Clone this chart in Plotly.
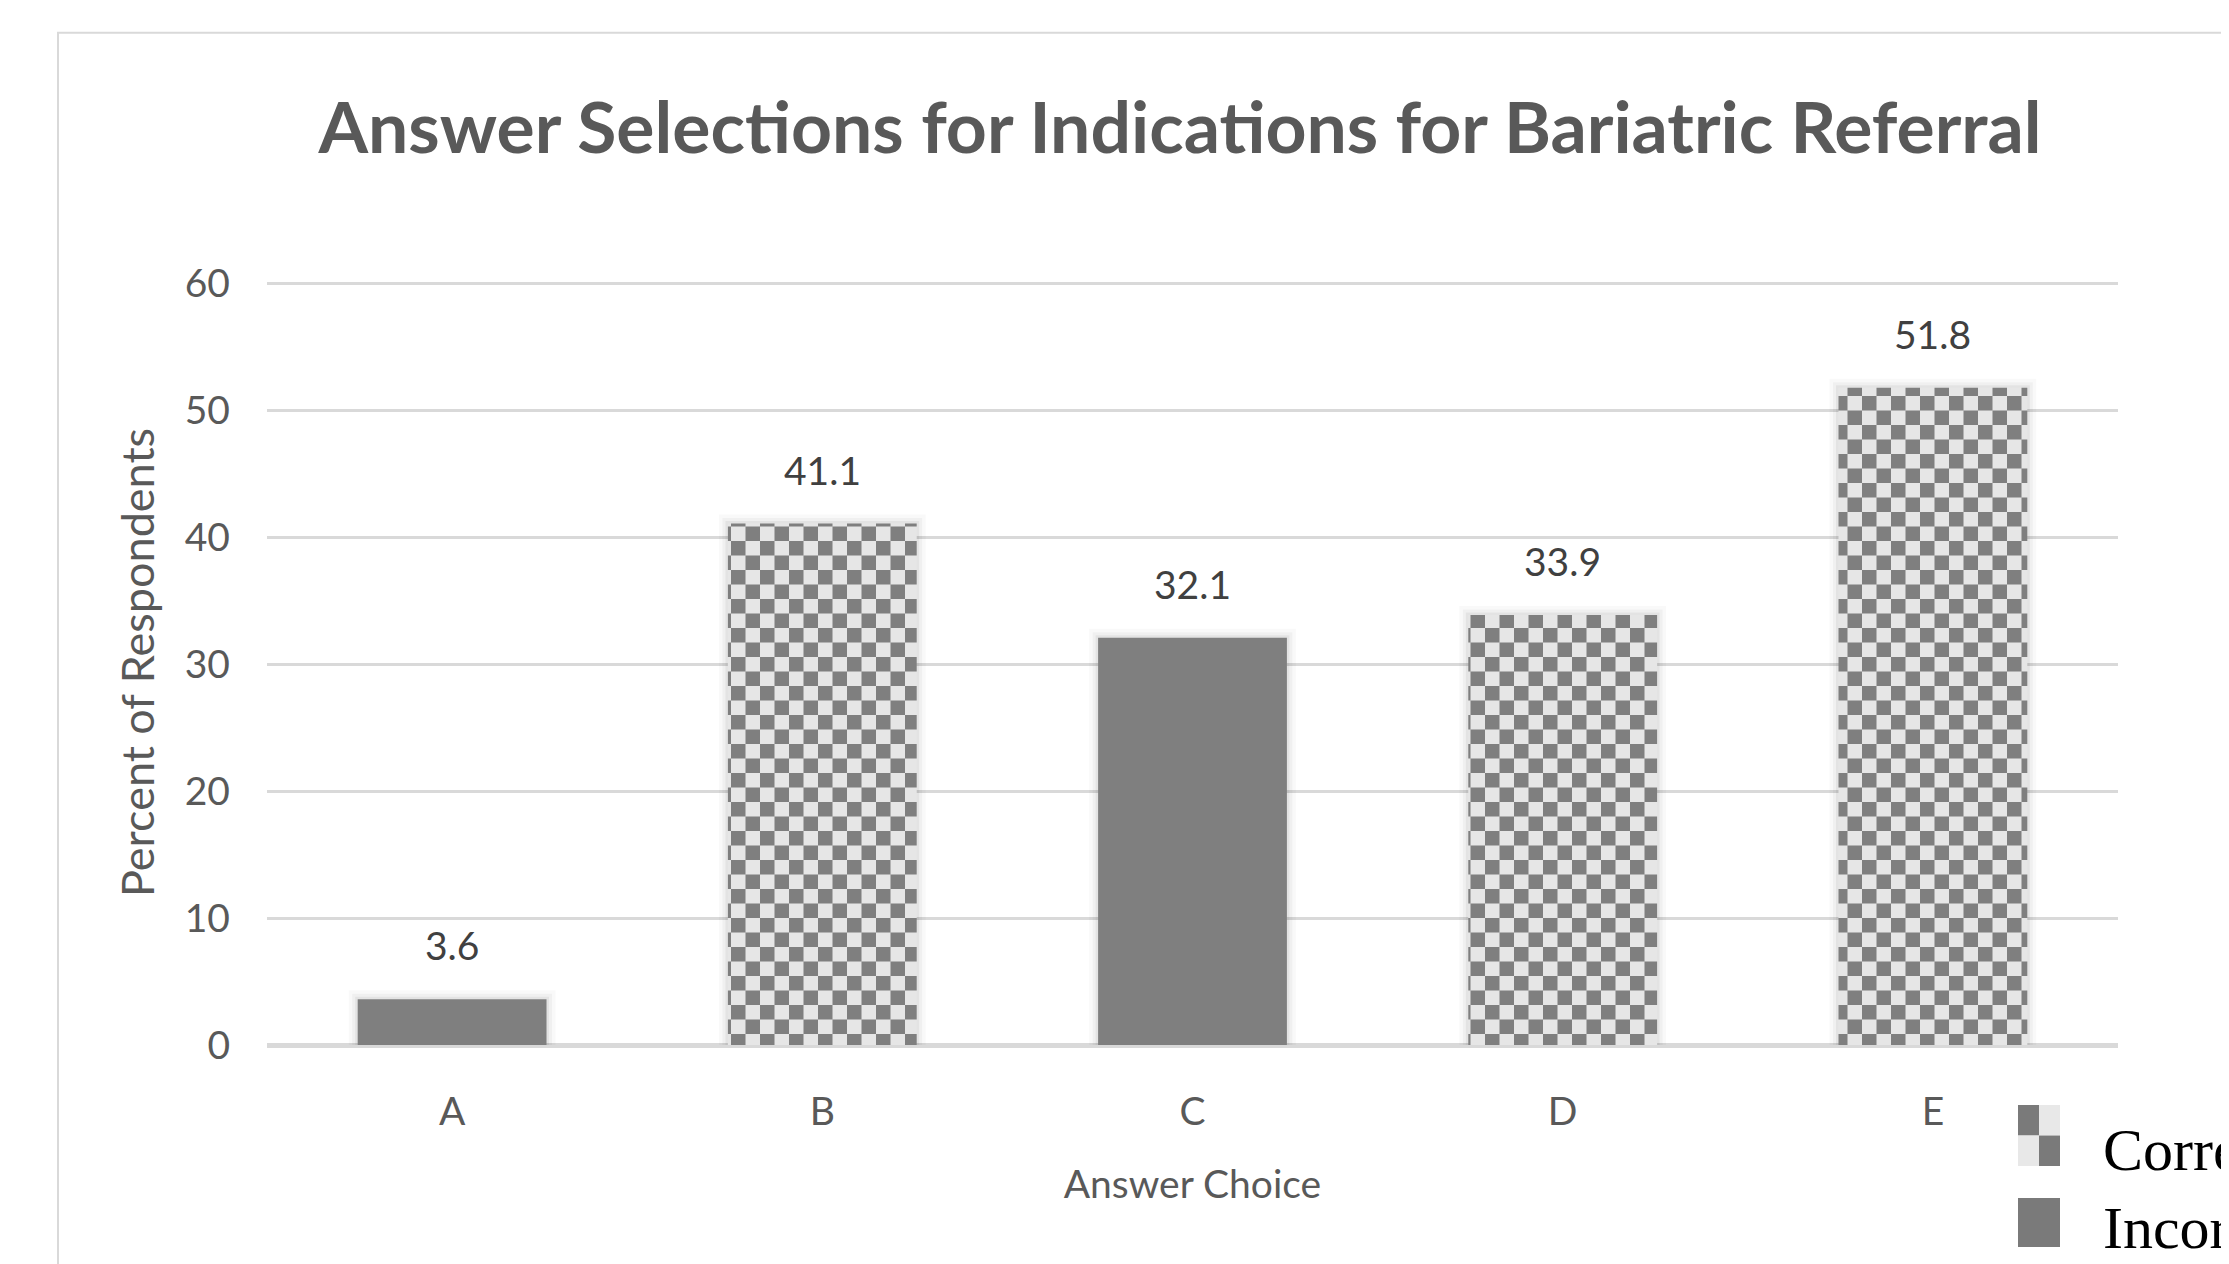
import plotly.graph_objects as go

# ---------------- data ----------------
categories = ["A", "B", "C", "D", "E"]
percent = [3.6, 41.1, 32.1, 33.9, 51.8]
is_correct = [False, True, False, True, True]
value_labels = ["3.6", "41.1", "32.1", "33.9", "51.8"]
y_ticks = [0, 10, 20, 30, 40, 50, 60]

title_text = "Answer Selections for Indications for Bariatric Referral"
x_title = "Answer Choice"
y_title = "Percent of Respondents"
legend_names = ["Correct", "Incorrect"]

# ---------------- layout geometry ----------------
W, H = 2229, 1264
OFF = 8                                     # page body margin
YMAX = 60.3
G60, G0 = 284 - OFF, 1045 - OFF             # pixel rows of the 60 and 0 gridlines
L, R = 267 - OFF, 2118 - OFF
B = G0
T = G0 - (G0 - G60) * YMAX / 60
PW, PH = R - L, B - T


def px(x):
    return (x - OFF - L) / PW


def py(y):
    return (B - (y - OFF)) / PH


DARK = "#7f7f7f"
LIGHT = "#e6e6e6"
FONT = "Lato"

corr_x = [c for c, k in zip(categories, is_correct) if k]
corr_y = [v for v, k in zip(percent, is_correct) if k]
inc_x = [c for c, k in zip(categories, is_correct) if not k]
inc_y = [v for v, k in zip(percent, is_correct) if not k]

fig = go.Figure()

# soft shadow halo behind bars
for lw, op in [(18, 0.025), (11, 0.035), (5, 0.05)]:
    fig.add_trace(go.Bar(x=categories, y=percent, showlegend=False, hoverinfo="skip",
                         marker=dict(color="rgba(0,0,0,0)",
                                     line=dict(width=lw, color=f"rgba(0,0,0,{op})"))))

try:
    pat = go.bar.marker.Pattern(path="M0,0H14.5V14.5H0Z M14.5,14.5H29V29H14.5Z",
                                size=29, fgcolor=DARK, bgcolor=LIGHT,
                                fillmode="replace", solidity=1)
except Exception:
    pat = go.bar.marker.Pattern(shape="+", size=29, fgcolor=DARK, bgcolor=LIGHT,
                                fillmode="replace", solidity=0.5)

fig.add_trace(go.Bar(x=corr_x, y=corr_y, name=legend_names[0], showlegend=False,
                     marker=dict(color=LIGHT, pattern=pat, line=dict(width=0))))
fig.add_trace(go.Bar(x=inc_x, y=inc_y, name=legend_names[1], showlegend=False,
                     marker=dict(color=DARK, line=dict(width=0))))

annotations = []
for c, v, t in zip(categories, percent, value_labels):
    annotations.append(dict(x=c, y=v, xref="x", yref="y", text=t, showarrow=False,
                            yshift=54, yanchor="middle",
                            font=dict(family=FONT, size=39, color="#404040")))

shapes = []
# chart border (left + top visible)
shapes.append(dict(type="rect", xref="paper", yref="paper",
                   x0=px(58), x1=px(2400), y0=py(1400), y1=py(33),
                   line=dict(color="#d9d9d9", width=2), fillcolor="rgba(0,0,0,0)", layer="below"))
# legend marker: Correct (2x2 checker)
cx0, cx1, cy0, cy1 = 2018, 2060, 1105, 1166
mx, my = (cx0 + cx1) / 2, (cy0 + cy1) / 2
for (a0, a1, b0, b1, col) in [
    (cx0, mx, cy0, my, "#7a7a7a"), (mx, cx1, cy0, my, "#e8e8e8"),
    (cx0, mx, my, cy1, "#e8e8e8"), (mx, cx1, my, cy1, "#7a7a7a")]:
    shapes.append(dict(type="rect", xref="paper", yref="paper",
                       x0=px(a0), x1=px(a1), y0=py(b1), y1=py(b0),
                       line=dict(width=0), fillcolor=col))
# legend marker: Incorrect
shapes.append(dict(type="rect", xref="paper", yref="paper",
                   x0=px(2018), x1=px(2060), y0=py(1247), y1=py(1198),
                   line=dict(width=0), fillcolor="#7a7a7a"))

for name, yc in zip(legend_names, [1150, 1228]):
    annotations.append(dict(xref="paper", yref="paper", x=px(2101), y=py(yc),
                            xanchor="left", yanchor="middle", text=name, showarrow=False,
                            font=dict(family="Liberation Serif", size=60, color="#000000")))

fig.update_layout(
    width=W, height=H,
    margin=dict(l=L, r=W - R, t=T, b=H - B, pad=0),
    paper_bgcolor="white", plot_bgcolor="white",
    barmode="overlay", bargap=0.49,
    showlegend=False,
    title=dict(text=title_text, x=(1180 - OFF) / W, xanchor="center", xref="container",
               y=1 - (128 - OFF) / H, yanchor="middle", yref="container",
               font=dict(family=FONT, size=71.5, color="#595959", weight="bold")),
    xaxis=dict(type="category", categoryorder="array", categoryarray=categories,
               showgrid=False, showline=False, zeroline=False, ticks="",
               ticklabelstandoff=40,
               tickfont=dict(family=FONT, size=39, color="#595959"),
               title=dict(text=x_title, standoff=38,
                          font=dict(family=FONT, size=39, color="#595959"))),
    yaxis=dict(range=[0, YMAX], tickvals=y_ticks, showgrid=True, gridcolor="#d9d9d9",
               gridwidth=3, zeroline=True, zerolinecolor="#d9d9d9", zerolinewidth=5,
               showline=False, ticks="", ticklabelstandoff=36,
               tickfont=dict(family=FONT, size=39, color="#595959"),
               title=dict(text=y_title, standoff=16,
                          font=dict(family=FONT, size=45, color="#595959"))),
    annotations=annotations,
    shapes=shapes,
)

fig.write_html("out.html")
